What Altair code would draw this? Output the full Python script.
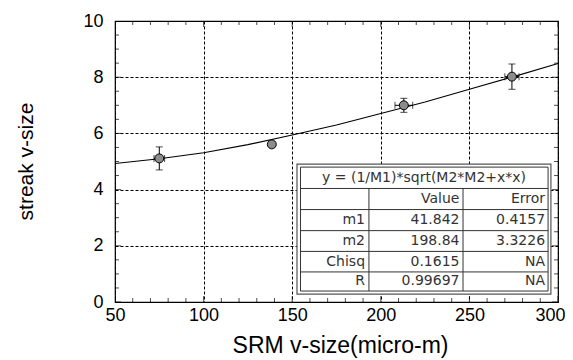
import altair as alt
import pandas as pd

# ---- data ----
pt_x = [75, 138.5, 213, 274]
pt_y = [5.11, 5.61, 7.00, 8.02]
pt_yerr = [0.41, 0.10, 0.25, 0.45]
pt_xerr = [3, 0, 5, 4]

fit_x = [50, 75, 100, 125, 150, 175, 200, 225, 250, 275, 300]
fit_y = [4.93, 5.10, 5.31, 5.60, 5.94, 6.30, 6.71, 7.12, 7.57, 8.02, 8.49]

x_major = [50, 100, 150, 200, 250, 300]
y_major = [0, 2, 4, 6, 8, 10]
x_minor = [v for v in range(50, 301, 10) if v % 50 != 0]
y_minor = [i * 0.5 for i in range(0, 21) if i % 4 != 0]

tbl_title = "y = (1/M1)*sqrt(M2*M2+x*x)"
tbl_rows = ["", "m1", "m2", "Chisq", "R"]
tbl_value = ["Value", "41.842", "198.84", "0.1615", "0.99697"]
tbl_error = ["Error", "0.4157", "3.3226", "NA", "NA"]

# table placement (in data units of the chart)
tb_left, tb_right, tb_top, tb_bottom = 152.7, 296.0, 4.91, 0.28
tb_in_left, tb_in_right, tb_in_top, tb_in_bottom = 154.7, 294.4, 4.80, 0.39
col_lines = [193.3, 246.4]
row_lines = [4.04, 3.29, 2.54, 1.80, 1.07]
row_centers = [3.67, 2.92, 2.17, 1.43, 0.73]
col_text_right = [191.1, 244.4, 292.7]
title_center = (224.4, 4.42)

xs = alt.Scale(domain=[50, 300], nice=False, zero=False)
ys = alt.Scale(domain=[0, 10], nice=False, zero=False)

FONT = "Liberation Sans"
MAJ, MIN = 12, 8  # tick mark lengths (doubled; half is clipped away)

pts = pd.DataFrame({"x": pt_x, "y": pt_y, "ye": pt_yerr, "xe": pt_xerr})
pts["ylo"] = pts.y - pts.ye
pts["yhi"] = pts.y + pts.ye
pts["xlo"] = pts.x - pts.xe
pts["xhi"] = pts.x + pts.xe
fit = pd.DataFrame({"x": fit_x, "y": fit_y})

X = lambda f: alt.X(f, scale=xs, axis=None)
Y = lambda f: alt.Y(f, scale=ys, axis=None)

# layer 1: curve with grid and labels
curve = alt.Chart(fit).mark_line(color="black", strokeWidth=1.1).encode(
    x=alt.X("x:Q", scale=xs, axis=alt.Axis(
        values=x_major, grid=True, gridDash=[3, 2], gridColor="black", gridOpacity=1,
        gridWidth=1, ticks=False, tickSize=0, domain=False, labelPadding=4,
        labelFont=FONT, labelFontSize=18, labelColor="black", labelFlush=False,
        labelOffset={"condition": {"test": "datum.value == 300", "value": -8}, "value": 0},
        title="SRM v-size(micro-m)", titleFont=FONT, titleFontSize=23,
        titleFontWeight="normal", titleColor="black", titleX=225, titleY=50,
        titleBaseline="alphabetic", titleAlign="center", zindex=0)),
    y=alt.Y("y:Q", scale=ys, axis=alt.Axis(
        values=y_major, grid=True, gridDash=[3, 2], gridColor="black", gridOpacity=1,
        gridWidth=1, ticks=False, tickSize=0, domain=False, labelPadding=12,
        labelFont=FONT, labelFontSize=18, labelColor="black", labelFlush=False,
        title="streak v-size", titleFont=FONT, titleFontSize=21,
        titleFontWeight="normal", titleColor="black", titleX=-89, titleY=140,
        titleAngle=270, titleBaseline="middle", titleAlign="center", zindex=0)),
)

# inward tick marks on all four sides (clipped to the plot)
xt_rows = []
for v in x_major:
    for e in (0, 10):
        xt_rows.append({"x": v, "y": e, "s": MAJ})
for v in x_minor:
    for e in (0, 10):
        xt_rows.append({"x": v, "y": e, "s": MIN})
yt_rows = []
for v in y_major:
    for e in (50, 300):
        yt_rows.append({"x": e, "y": v, "s": MAJ})
for v in y_minor:
    for e in (50, 300):
        yt_rows.append({"x": e, "y": v, "s": MIN})
xticks = alt.Chart(pd.DataFrame(xt_rows)).mark_tick(
    orient="vertical", color="black", thickness=1, clip=True
).encode(x=X("x:Q"), y=Y("y:Q"), size=alt.Size("s:Q", scale=None, legend=None))
yticks = alt.Chart(pd.DataFrame(yt_rows)).mark_tick(
    orient="horizontal", color="black", thickness=1, clip=True
).encode(x=X("x:Q"), y=Y("y:Q"), size=alt.Size("s:Q", scale=None, legend=None))

# table frame
outer_df = pd.DataFrame({"x": [tb_left], "x2": [tb_right], "y": [tb_top], "y2": [tb_bottom]})
outer = alt.Chart(outer_df).mark_rect(fill="white", stroke="#555555", strokeWidth=1.2).encode(
    x=X("x:Q"), x2="x2:Q", y=Y("y:Q"), y2="y2:Q")
inner_df = pd.DataFrame({"x": [tb_in_left], "x2": [tb_in_right], "y": [tb_in_top], "y2": [tb_in_bottom]})
inner = alt.Chart(inner_df).mark_rect(fill="white", stroke="#333333", strokeWidth=1).encode(
    x=X("x:Q"), x2="x2:Q", y=Y("y:Q"), y2="y2:Q")

hl = pd.DataFrame({"x": [tb_in_left] * len(row_lines), "x2": [tb_in_right] * len(row_lines), "y": row_lines})
hlines = alt.Chart(hl).mark_rule(color="#333333", strokeWidth=1).encode(
    x=X("x:Q"), x2="x2:Q", y=Y("y:Q"))
vl = pd.DataFrame({"x": col_lines, "y": [row_lines[0]] * 2, "y2": [tb_in_bottom] * 2})
vlines = alt.Chart(vl).mark_rule(color="#333333", strokeWidth=1).encode(
    x=X("x:Q"), y=Y("y:Q"), y2="y2:Q")

cells = []
for i, yv in enumerate(row_centers):
    cells.append({"x": col_text_right[0], "y": yv, "t": tbl_rows[i]})
    cells.append({"x": col_text_right[1], "y": yv, "t": tbl_value[i]})
    cells.append({"x": col_text_right[2], "y": yv, "t": tbl_error[i]})
cell_text = alt.Chart(pd.DataFrame(cells)).mark_text(
    align="right", baseline="middle", font="DejaVu Sans", fontSize=14, color="#333333"
).encode(x=X("x:Q"), y=Y("y:Q"), text="t:N")
title_df = pd.DataFrame({"x": [title_center[0]], "y": [title_center[1]], "t": [tbl_title]})
title_text = alt.Chart(title_df).mark_text(
    align="center", baseline="middle", font="DejaVu Sans", fontSize=14, color="#333333"
).encode(x=X("x:Q"), y=Y("y:Q"), text="t:N")

# error bars and points
ybars = alt.Chart(pts).mark_rule(color="black", strokeWidth=1).encode(
    x=X("x:Q"), y=Y("ylo:Q"), y2="yhi:Q")
xp = pts[pts.xe > 0]
xbars = alt.Chart(xp).mark_rule(color="black", strokeWidth=1).encode(
    x=X("xlo:Q"), x2="xhi:Q", y=Y("y:Q"))
ycaps_df = pd.concat([pd.DataFrame({"x": pts.x, "y": pts.ylo}),
                      pd.DataFrame({"x": pts.x, "y": pts.yhi})])
ycaps = alt.Chart(ycaps_df).mark_tick(orient="horizontal", color="black", size=7, thickness=1).encode(
    x=X("x:Q"), y=Y("y:Q"))
xcaps_df = pd.concat([pd.DataFrame({"x": xp.xlo, "y": xp.y}),
                      pd.DataFrame({"x": xp.xhi, "y": xp.y})])
xcaps = alt.Chart(xcaps_df).mark_tick(orient="vertical", color="black", size=7, thickness=1).encode(
    x=X("x:Q"), y=Y("y:Q"))
points = alt.Chart(pts).mark_point(
    shape="circle", filled=True, fill="#8c8c8c", stroke="black", strokeWidth=1, size=80, opacity=1
).encode(x=X("x:Q"), y=Y("y:Q"))

chart = alt.layer(
    curve, xticks, yticks, outer, inner, hlines, vlines, cell_text, title_text,
    ybars, xbars, ycaps, xcaps, points
).resolve_axis(x="independent", y="independent").properties(
    width=443, height=281,
    autosize=alt.AutoSizeParams(type="none"),
    padding={"left": 107, "top": 13, "right": 7, "bottom": 56},
    background="white",
).configure_view(stroke="black", strokeWidth=1.2)

chart.save("out.html", embed_options={"renderer": "svg", "actions": False})
